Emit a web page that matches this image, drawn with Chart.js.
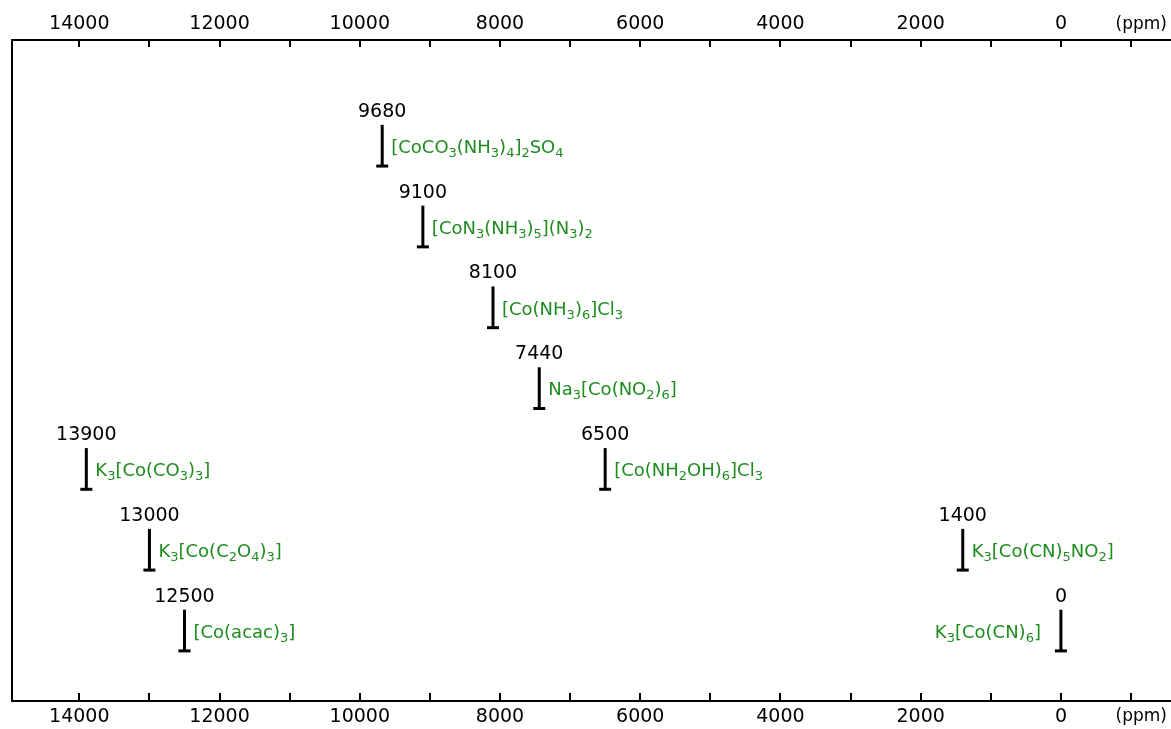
<!DOCTYPE html>
<html><head><meta charset="utf-8">
<script src="https://cdn.jsdelivr.net/npm/chart.js@4/dist/chart.umd.min.js"></script>
<style>html,body{margin:0;padding:0;background:#fff}#wrap{width:1171px;height:729px}</style>
</head><body><div id="wrap"><canvas id="c" width="1171" height="729"></canvas></div>
<script>
// ---- data ----
const shifts = [9680, 9100, 8100, 7440, 6500, 13900, 13000, 12500, 1400, 0];
const rows = [7, 6, 5, 4, 3, 3, 2, 1, 2, 1];
const compounds = [
  '[CoCO_3(NH_3)_4]_2SO_4',
  '[CoN_3(NH_3)_5](N_3)_2',
  '[Co(NH_3)_6]Cl_3',
  'Na_3[Co(NO_2)_6]',
  '[Co(NH_2OH)_6]Cl_3',
  'K_3[Co(CO_3)_3]',
  'K_3[Co(C_2O_4)_3]',
  '[Co(acac)_3]',
  'K_3[Co(CN)_5NO_2]',
  'K_3[Co(CN)_6]'
];
const labelSides = ['right','right','right','right','right','right','right','right','right','left'];
const tickValues = [14000, 13000, 12000, 11000, 10000, 9000, 8000, 7000, 6000, 5000, 4000, 3000, 2000, 1000, 0, -1000];
const tickLabels = ['14000', '', '12000', '', '10000', '', '8000', '', '6000', '', '4000', '', '2000', '', '0', '(ppm)'];

// ---- styles ----
const BAR_LEN = 0.51;
const GREEN = 'rgb(30,140,30)';
const FONT = '"DejaVu Sans", sans-serif';

function parseFormula(str) {
  const segs = [];
  let i = 0;
  while (i < str.length) {
    if (str[i] === '_') {
      let j = i + 1, t = '';
      while (j < str.length && /[0-9]/.test(str[j])) { t += str[j]; j++; }
      segs.push({ t, sub: true });
      i = j;
    } else {
      let j = i, t = '';
      while (j < str.length && str[j] !== '_') { t += str[j]; j++; }
      segs.push({ t, sub: false });
      i = j;
    }
  }
  return segs;
}

function drawFormula(ctx, str, side, px, baseline) {
  const segs = parseFormula(str);
  const mainF = '18px ' + FONT, subF = '13px ' + FONT;
  let total = 0;
  segs.forEach(s => { ctx.font = s.sub ? subF : mainF; s.w = ctx.measureText(s.t).width; total += s.w; });
  let x = side === 'right' ? px + 9 : px - 20 - total;
  ctx.fillStyle = GREEN;
  ctx.textAlign = 'left';
  ctx.textBaseline = 'alphabetic';
  segs.forEach(s => {
    ctx.font = s.sub ? subF : mainF;
    ctx.fillText(s.t, x, baseline + (s.sub ? 4 : 0));
    x += s.w;
  });
}

const labelPlugin = {
  id: 'labels',
  afterDatasetsDraw(chart) {
    const ctx = chart.ctx, xs = chart.scales.x, ys = chart.scales.y;
    shifts.forEach((s, i) => {
      const px = xs.getPixelForValue(s);
      const pb = ys.getPixelForValue(rows[i]);
      const pt = ys.getPixelForValue(rows[i] + BAR_LEN);
      ctx.save();
      ctx.font = '19px ' + FONT;
      ctx.fillStyle = '#000';
      ctx.textAlign = 'center';
      ctx.textBaseline = 'alphabetic';
      ctx.fillText(String(s), px, pt - 8);
      drawFormula(ctx, compounds[i], labelSides[i], px, pb - 13);
      ctx.restore();
    });
  }
};

const tickPlugin = {
  id: 'innerTicks',
  afterDraw(chart) {
    const ctx = chart.ctx, a = chart.chartArea;
    ctx.save();
    ctx.strokeStyle = '#000';
    ctx.lineWidth = 2;
    ['x', 'x2'].forEach(id => {
      const sc = chart.scales[id];
      sc.ticks.forEach(t => {
        const px = Math.round(sc.getPixelForValue(t.value));
        ctx.beginPath();
        if (sc.position === 'top') { ctx.moveTo(px, a.top); ctx.lineTo(px, a.top + 7); }
        else { ctx.moveTo(px, a.bottom); ctx.lineTo(px, a.bottom - 8); }
        ctx.stroke();
      });
    });
    ctx.restore();
  }
};

function xAxis(pos, h) {
  return {
    type: 'linear', axis: 'x', position: pos,
    min: -1570, max: 14960, reverse: true,
    afterBuildTicks: s => { s.ticks = tickValues.map(v => ({ value: v })); },
    afterFit: s => { s.height = h; s.paddingLeft = 0; s.paddingRight = 0; },
    ticks: {
      autoSkip: false, maxRotation: 0, minRotation: 0, padding: 5, color: '#000',
      font: c => ({ family: FONT, size: (c.tick && c.tick.value === -1000) ? 17 : 19 }),
      callback: v => {
        const k = tickValues.indexOf(v);
        if (k < 0) return '';
        return v === -1000 ? '\u2002\u2002\u2009' + tickLabels[k] : tickLabels[k];
      }
    },
    grid: { drawOnChartArea: false, drawTicks: false },
    border: { color: '#000', width: 2 }
  };
}

const datasets = shifts.map((s, i) => ({
  label: compounds[i],
  data: [{ x: s, y: rows[i] }, { x: s, y: rows[i] + BAR_LEN }],
  showLine: true,
  borderColor: '#000',
  borderWidth: 3,
  pointStyle: 'line',
  pointRadius: c => c.dataIndex === 0 ? 6 : 0,
  pointHoverRadius: c => c.dataIndex === 0 ? 6 : 0,
  pointBorderColor: '#000',
  pointBorderWidth: 3,
  xAxisID: 'x', yAxisID: 'y'
}));

new Chart(document.getElementById('c'), {
  type: 'scatter',
  data: { datasets },
  options: {
    responsive: false, animation: false, devicePixelRatio: 1,
    layout: { autoPadding: false, padding: { left: 12, right: 0, top: 0, bottom: 0 } },
    plugins: { legend: { display: false }, tooltip: { enabled: false } },
    events: [],
    scales: {
      x: xAxis('top', 40),
      x2: xAxis('bottom', 28),
      y: {
        min: 0.38, max: 8.56,
        ticks: { display: false },
        grid: { drawOnChartArea: false, drawTicks: false },
        border: { color: '#000', width: 2 },
        afterFit: s => { s.width = 0; s.paddingTop = 0; s.paddingBottom = 0; }
      }
    }
  },
  plugins: [labelPlugin, tickPlugin]
});
</script>
</body></html>
